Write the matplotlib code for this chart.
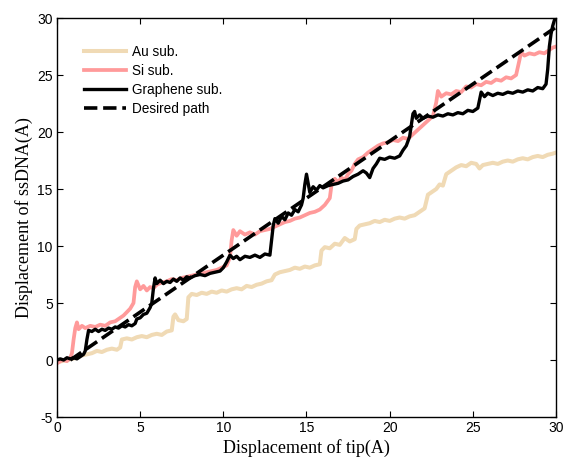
import matplotlib
matplotlib.use("Agg")
import matplotlib.pyplot as plt

plt.rcParams["axes.unicode_minus"] = False

# Au substrate
au_x = [0.0, 0.3, 0.6, 0.9, 1.2, 1.5, 1.8, 2.1, 2.4, 2.7, 3.0, 3.3, 3.6, 3.8, 3.9,
        4.2, 4.5, 4.8, 5.1, 5.4, 5.7, 6.0, 6.3, 6.6, 6.9, 7.0, 7.1, 7.3, 7.6, 7.8,
        7.9, 8.1, 8.4, 8.7, 9.0, 9.3, 9.6, 9.9, 10.2, 10.5, 10.8, 11.1, 11.4, 11.7,
        12.0, 12.3, 12.6, 12.9, 13.1, 13.4, 13.7, 14.0, 14.3, 14.6, 14.9, 15.2, 15.5,
        15.8, 15.9, 16.1, 16.4, 16.7, 17.0, 17.3, 17.6, 17.9, 18.0, 18.2, 18.5, 18.8,
        19.1, 19.4, 19.7, 20.0, 20.3, 20.6, 20.9, 21.2, 21.5, 21.8, 22.1, 22.3, 22.5,
        22.8, 23.0, 23.2, 23.4, 23.7, 24.0, 24.3, 24.6, 24.9, 25.2, 25.4, 25.6, 25.9,
        26.2, 26.5, 26.8, 27.1, 27.4, 27.7, 28.0, 28.3, 28.6, 28.9, 29.2, 29.5, 29.8,
        30.0]
au_y = [-0.2, -0.1, 0.0, 0.1, 0.2, 0.4, 0.5, 0.6, 0.8, 0.7, 0.9, 1.0, 0.9, 1.1, 1.8,
        1.9, 1.8, 2.0, 2.1, 2.0, 2.2, 2.3, 2.2, 2.5, 2.6, 3.8, 4.0, 3.5, 3.4, 3.6,
        5.5, 5.8, 5.7, 5.9, 5.8, 6.0, 5.9, 6.1, 6.0, 6.2, 6.3, 6.2, 6.5, 6.4,
        6.6, 6.7, 6.9, 7.0, 7.5, 7.7, 7.8, 7.9, 8.1, 8.0, 8.2, 8.1, 8.3,
        8.4, 9.6, 9.9, 9.8, 10.2, 10.1, 10.7, 10.4, 10.6, 11.5, 11.8, 11.9, 12.0,
        12.2, 12.1, 12.3, 12.2, 12.4, 12.5, 12.4, 12.6, 12.7, 13.0, 13.3, 14.5, 14.7,
        15.0, 15.4, 15.3, 16.3, 16.6, 16.9, 17.1, 17.0, 17.3, 17.2, 16.8, 17.1, 17.2,
        17.3, 17.2, 17.4, 17.5, 17.4, 17.6, 17.7, 17.6, 17.8, 17.9, 17.8, 18.0, 18.1,
        18.2]

# Si substrate
si_x = [0.0, 0.2, 0.4, 0.6, 0.8, 0.9, 1.0, 1.1, 1.2, 1.3, 1.5, 1.7, 2.0, 2.3, 2.6,
        2.9, 3.2, 3.5, 3.8, 4.0, 4.2, 4.4, 4.6, 4.7, 4.8, 5.0, 5.2, 5.4, 5.6, 5.8,
        6.0, 6.3, 6.6, 6.9, 7.2, 7.5, 7.8, 8.1, 8.4, 8.7, 9.0, 9.3, 9.6, 9.9, 10.2,
        10.4, 10.5, 10.6, 10.8, 11.0, 11.3, 11.6, 11.9, 12.2, 12.5, 12.8, 13.1, 13.4,
        13.7, 14.0, 14.3, 14.6, 14.9, 15.2, 15.5, 15.8, 16.1, 16.4, 16.5, 16.7, 16.9,
        17.1, 17.3, 17.5, 17.7, 17.9, 18.1, 18.4, 18.7, 19.0, 19.3, 19.6, 19.9, 20.2,
        20.5, 20.8, 21.1, 21.4, 21.7, 22.0, 22.3, 22.6, 22.8, 22.9, 23.1, 23.4, 23.7,
        24.0, 24.3, 24.6, 24.9, 25.2, 25.5, 25.8, 26.1, 26.4, 26.7, 27.0, 27.3, 27.6,
        27.8, 27.9, 28.1, 28.4, 28.7, 29.0, 29.3, 29.6, 29.8, 30.0]
si_y = [-0.3, -0.1, 0.0, -0.1, 0.2, 0.6, 1.8, 2.8, 3.3, 2.7, 3.0, 2.8, 3.0, 2.9, 3.1,
        3.0, 3.3, 3.4, 3.7, 3.9, 4.2, 4.5, 5.0, 6.4, 6.9, 6.2, 6.5, 6.1, 6.4, 6.3,
        6.6, 6.8, 6.9, 7.1, 7.0, 7.2, 7.3, 7.4, 7.5, 7.6, 7.7, 7.8, 7.9, 8.1, 8.3,
        9.0, 10.5, 11.4, 10.9, 11.3, 11.0, 11.2, 11.0, 11.3, 11.4, 11.5, 11.7, 11.9,
        12.1, 12.2, 12.4, 12.5, 12.7, 12.9, 13.0, 13.2, 13.6, 14.2, 15.3, 15.9, 15.6,
        16.0, 15.8, 16.3, 16.6, 17.2, 17.6, 17.8, 18.2, 18.5, 18.8, 19.0, 19.1, 19.3,
        19.2, 19.5, 19.4, 19.8, 20.2, 20.6, 21.0, 21.4, 22.6, 23.6, 23.1, 23.4, 23.3,
        23.6, 23.5, 24.0, 23.9, 24.2, 24.1, 24.4, 24.3, 24.6, 24.5, 24.8, 24.7, 25.0,
        26.3, 27.0, 26.7, 26.9, 26.8, 27.0, 26.9, 27.2, 27.4, 27.5]

# Graphene substrate
gr_x = [0.0, 0.2, 0.4, 0.6, 0.8, 1.0, 1.2, 1.4, 1.6, 1.7, 1.8, 1.9, 2.1, 2.3, 2.5,
        2.7, 2.9, 3.1, 3.3, 3.5, 3.7, 3.9, 4.1, 4.3, 4.5, 4.7, 4.8, 5.0, 5.2, 5.4,
        5.6, 5.7, 5.8, 5.9, 6.0, 6.2, 6.4, 6.6, 6.8, 7.0, 7.2, 7.4, 7.6, 7.8, 8.0,
        8.3, 8.6, 8.9, 9.2, 9.5, 9.8, 10.0, 10.2, 10.4, 10.6, 10.8, 11.0, 11.3, 11.6,
        11.9, 12.2, 12.5, 12.8, 12.9, 13.0, 13.1, 13.3, 13.5, 13.7, 13.9, 14.1, 14.3,
        14.5, 14.7, 14.8, 14.9, 15.0, 15.1, 15.2, 15.4, 15.6, 15.8, 16.0, 16.3, 16.6,
        16.9, 17.2, 17.5, 17.8, 18.1, 18.4, 18.6, 18.8, 19.0, 19.2, 19.4, 19.7, 20.0,
        20.3, 20.6, 20.8, 21.0, 21.2, 21.3, 21.4, 21.5, 21.6, 21.8, 22.0, 22.3, 22.6,
        22.9, 23.2, 23.5, 23.8, 24.1, 24.4, 24.7, 25.0, 25.3, 25.4, 25.5, 25.7, 25.9,
        26.2, 26.5, 26.8, 27.1, 27.4, 27.7, 28.0, 28.3, 28.6, 28.9, 29.2, 29.4, 29.5,
        29.6, 29.7, 29.8, 29.9, 30.0]
gr_y = [0.0, 0.1, 0.0, 0.2, 0.1, 0.2, 0.1, 0.3, 0.5, 0.8, 1.8, 2.6, 2.5, 2.7, 2.5,
        2.7, 2.6, 2.8, 2.7, 2.9, 2.8, 3.0, 2.9, 3.1, 3.0, 3.2, 3.6, 3.7, 4.0, 4.1,
        4.6, 5.0, 6.3, 7.2, 6.7, 7.0, 6.7, 6.9, 6.8, 7.1, 6.9, 7.2, 7.0, 7.3, 7.2,
        7.4, 7.5, 7.4, 7.6, 7.7, 7.8, 8.1, 8.6, 9.2, 8.9, 9.1, 8.8, 9.1, 9.0,
        9.2, 9.0, 9.3, 9.2, 10.5, 11.8, 12.4, 12.0, 12.6, 12.3, 12.9, 12.7, 13.2,
        13.0, 13.6, 14.2, 15.4, 16.3, 15.5, 14.7, 15.2, 14.9, 15.3, 15.1, 15.3, 15.4,
        15.5, 15.7, 15.8, 16.1, 16.3, 16.6, 16.4, 16.0, 16.8, 17.2, 17.7, 17.6, 17.8,
        17.7, 17.9, 18.4, 18.8, 19.6, 20.6, 21.6, 21.8, 21.2, 21.5, 21.2, 21.4, 21.3,
        21.5, 21.4, 21.6, 21.5, 21.7, 21.6, 21.9, 21.8, 22.1, 22.8, 23.5, 23.1, 23.4,
        23.2, 23.4, 23.3, 23.5, 23.4, 23.6, 23.5, 23.7, 23.6, 23.9, 23.8, 24.2, 25.5,
        27.5, 28.6, 29.3, 29.8, 30.0]

# desired path
path_x = [0.8, 30.0]
path_y = [0.0, 29.2]

labels = ["Au sub.", "Si sub.", "Graphene sub.", "Desired path"]

fig = plt.figure(figsize=(5.63, 4.57), dpi=100)
ax = fig.add_axes([0.1012, 0.0875, 0.8864, 0.8731])

ax.plot(au_x, au_y, color="#F0DAB5", lw=2.9, label=labels[0])
ax.plot(si_x, si_y, color="#FF9A9A", lw=2.7, label=labels[1])
ax.plot(gr_x, gr_y, color="black", lw=2.4, label=labels[2])
ax.plot(path_x, path_y, color="black", lw=2.6, ls="--", label=labels[3])

ax.set_xlim(0, 30)
ax.set_ylim(-5, 30)
ax.set_xticks(range(0, 31, 5))
ax.set_yticks(range(-5, 31, 5))
ax.tick_params(direction="in", top=True, right=True, length=4, width=0.8,
               labelsize=10, pad=3)
for lab in ax.get_xticklabels() + ax.get_yticklabels():
    lab.set_family("Liberation Sans")
for s in ax.spines.values():
    s.set_linewidth(1.0)

ax.set_xlabel("Displacement of tip(A)", family="Liberation Serif", fontsize=13, labelpad=3)
ax.set_ylabel("Displacement of ssDNA(A)", family="Liberation Serif", fontsize=13, labelpad=3)

leg = ax.legend(loc="upper left", bbox_to_anchor=(0.03, 0.963), frameon=False,
                prop={"family": "Liberation Sans", "size": 9.8},
                handlelength=3.1, handletextpad=0.4, labelspacing=0.36)

fig.savefig("out.png", dpi=100)
